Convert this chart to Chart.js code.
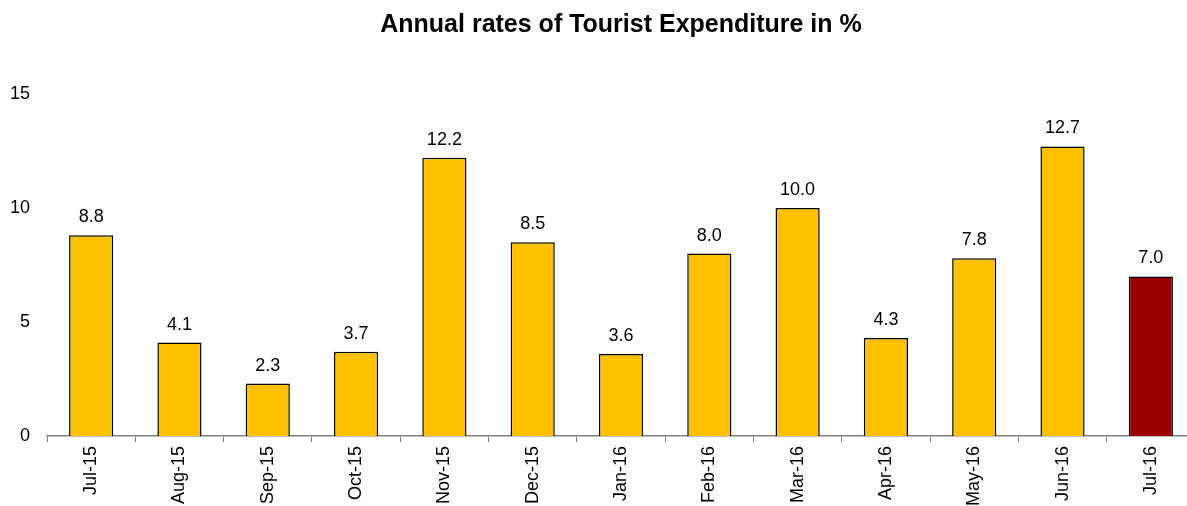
<!DOCTYPE html>
<html>
<head>
<meta charset="utf-8">
<script src="https://cdn.jsdelivr.net/npm/chart.js@4/dist/chart.umd.min.js"></script>
<style>
  html, body { margin: 0; padding: 0; background: #fff; overflow: hidden; }
  #wrap { width: 1195px; height: 506px; }
</style>
</head>
<body>
<div id="wrap"><canvas id="c"></canvas></div>
<script>
const months = ["Jul-15", "Aug-15", "Sep-15", "Oct-15", "Nov-15", "Dec-15", "Jan-16",
  "Feb-16", "Mar-16", "Apr-16", "May-16", "Jun-16", "Jul-16"];
const rates = [8.8, 4.1, 2.3, 3.7, 12.2, 8.5, 3.6, 8.0, 10.0, 4.3, 7.8, 12.7, 7.0];
const yTicks = [0, 5, 10, 15];

const barColors = months.map((_, i) => (i === months.length - 1 ? "#990000" : "#FFC000"));
const font = "'Liberation Sans', Arial, sans-serif";

// value labels above each bar
const valueLabels = {
  id: "valueLabels",
  afterDatasetsDraw(chart) {
    const ctx = chart.ctx;
    const meta = chart.getDatasetMeta(0);
    ctx.save();
    ctx.font = "18px " + font;
    ctx.fillStyle = "#000";
    ctx.textAlign = "center";
    ctx.textBaseline = "alphabetic";
    meta.data.forEach((bar, i) => {
      ctx.fillText(rates[i].toFixed(1), bar.x, bar.y - 13);
    });
    ctx.restore();
  },
};

new Chart(document.getElementById("c"), {
  type: "bar",
  data: {
    labels: months,
    datasets: [
      {
        data: rates,
        backgroundColor: barColors,
        borderColor: "#000",
        borderWidth: 1.5,
        categoryPercentage: 0.5,
        barPercentage: 1,
      },
    ],
  },
  options: {
    responsive: true,
    maintainAspectRatio: false,
    animation: false,
    layout: { padding: 0 },
    plugins: {
      legend: { display: false },
      tooltip: { enabled: false },
      title: {
        display: true,
        fullSize: false,
        text: "Annual rates of Tourist Expenditure in %",
        color: "#000",
        font: { family: font, size: 25, weight: "bold" },
        padding: { top: 10, bottom: 54 },
      },
    },
    scales: {
      x: {
        offset: true,
        grid: {
          display: true,
          drawOnChartArea: false,
          offset: true,
          tickLength: 6,
          color: "#808080",
        },
        border: { display: true, color: "#808080", width: 1.5 },
        ticks: {
          color: "#000",
          font: { family: font, size: 18 },
          minRotation: 90,
          maxRotation: 90,
          padding: 4,
        },
        afterFit(scale) { scale.height = 70; },
      },
      y: {
        min: 0,
        max: 15,
        afterBuildTicks(scale) { scale.ticks = yTicks.map((v) => ({ value: v })); },
        grid: { display: false, tickLength: 0 },
        border: { display: false },
        ticks: {
          color: "#000",
          font: { family: font, size: 18 },
          padding: 17,
        },
        afterFit(scale) { scale.width = 47; },
      },
    },
  },
  plugins: [valueLabels],
});
</script>
</body>
</html>
